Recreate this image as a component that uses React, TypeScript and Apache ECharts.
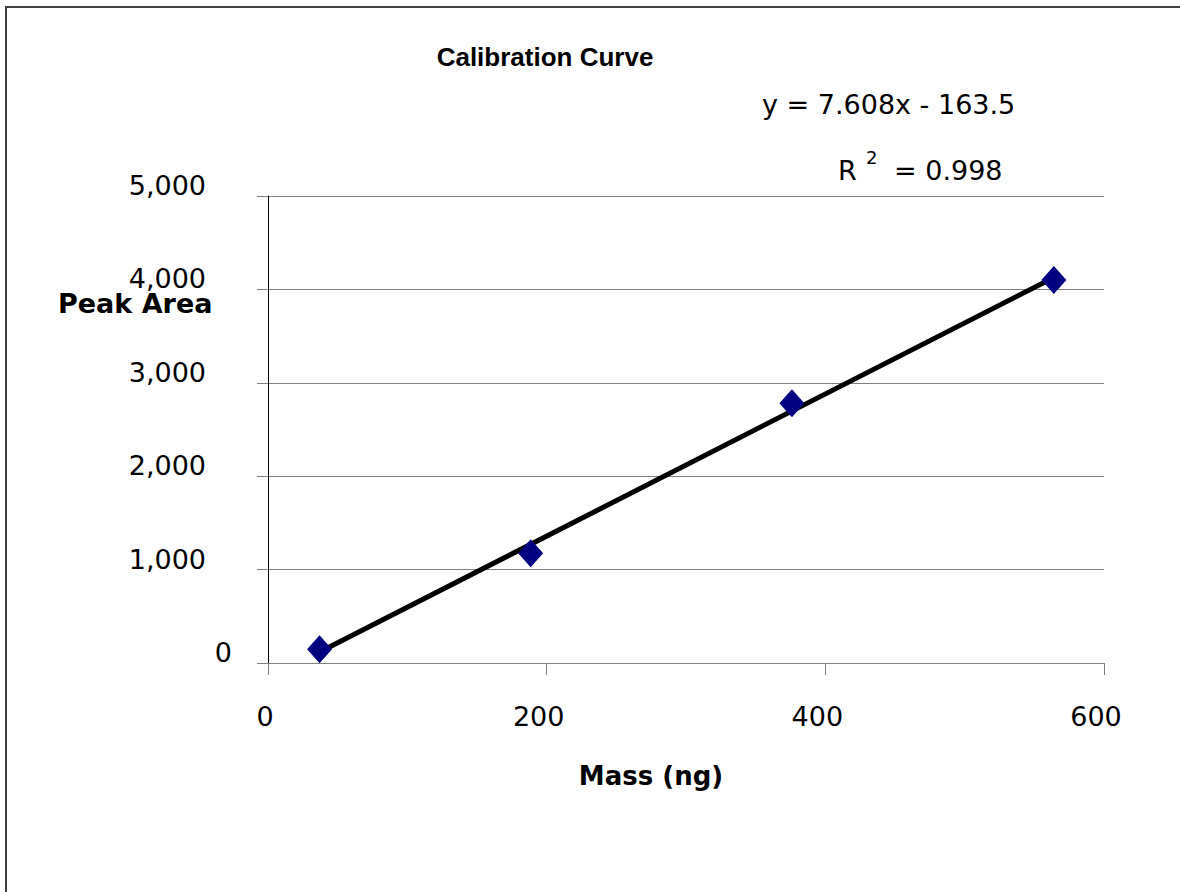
import React, { useEffect, useRef } from "react";
import * as echarts from "echarts";

const massNg = [37, 188.5, 376, 564];
const peakArea = [147, 1175, 2782, 4100];
const trendX = [37, 564];
const trendY = [118, 4128];
const yTicks = [0, 1000, 2000, 3000, 4000, 5000];
const xTicks = [0, 200, 400, 600];
const titleText = "Calibration Curve";
const equationText = "y = 7.608x - 163.5";
const r2Label = "R";
const r2Sup = "2";
const r2Value = "= 0.998";
const xName = "Mass (ng)";
const yName = "Peak Area";

const FONT = "'DejaVu Sans', Verdana, sans-serif";

export default function App() {
  const ref = useRef<HTMLDivElement>(null);
  useEffect(() => {
    const el = ref.current!;
    const chart = echarts.init(el, null, { renderer: "svg" });
    const fmt = (v: number) => v.toLocaleString("en-US");
    chart.setOption({
      animation: false,
      backgroundColor: "#fff",
      grid: { left: 268, right: 76, top: 196, bottom: 229, containLabel: false },
      xAxis: {
        type: "value",
        min: xTicks[0],
        max: xTicks[xTicks.length - 1],
        interval: 200,
        axisLine: { onZero: false, lineStyle: { color: "#808080", width: 1 } },
        axisTick: { show: true, length: 12, inside: false, lineStyle: { color: "#808080" } },
        splitLine: { show: false },
        axisLabel: {
          color: "#000",
          fontFamily: FONT,
          fontSize: 27,
          margin: 40,
          formatter: (v: number) => (v === 0 ? "{a|0}" : "{b|" + v + "}"),
          rich: {
            a: { fontFamily: FONT, fontSize: 27, color: "#000", padding: [0, 6, 0, 0] },
            b: { fontFamily: FONT, fontSize: 27, color: "#000", padding: [0, 16, 0, 0] },
          },
        },
      },
      yAxis: {
        type: "value",
        min: yTicks[0],
        max: yTicks[yTicks.length - 1],
        interval: 1000,
        axisLine: { show: true, lineStyle: { color: "#000", width: 1 } },
        axisTick: { show: true, length: 11, lineStyle: { color: "#808080" } },
        splitLine: { show: true, lineStyle: { color: "#808080", width: 1 } },
        axisLabel: {
          color: "#000",
          fontFamily: FONT,
          fontSize: 27,
          margin: 36,
          align: "right",
          verticalAlign: "bottom",
          lineHeight: 21,
          formatter: (v: number) => (v === 0 ? "{z|0}" : "{w|" + fmt(v) + "}"),
          rich: {
            z: { fontFamily: FONT, fontSize: 27, color: "#000", lineHeight: 21 },
            w: { fontFamily: FONT, fontSize: 27, color: "#000", lineHeight: 21, padding: [0, 26, 0, 0] },
          },
        },
      },
      series: [
        {
          type: "line",
          data: trendX.map((x, i) => [x, trendY[i]]),
          showSymbol: false,
          symbol: "none",
          lineStyle: { color: "#000", width: 5 },
          z: 2,
        },
        {
          type: "scatter",
          data: massNg.map((x, i) => [x, peakArea[i]]),
          symbol: "diamond",
          symbolSize: [25, 28],
          itemStyle: { color: "#000080", opacity: 1 },
          z: 3,
        },
      ],
      graphic: [
        {
          type: "rect",
          shape: { x: 6, y: 7, width: 1300, height: 1000 },
          style: { fill: "none", stroke: "#404040", lineWidth: 2 },
          silent: true,
        },
        {
          type: "text",
          x: 545,
          y: 57,
          style: {
            text: titleText,
            font: "bold 26px 'Liberation Sans', Arial, sans-serif",
            fill: "#000",
            textAlign: "center",
            textVerticalAlign: "middle",
          },
        },
        {
          type: "text",
          x: 762,
          y: 104,
          style: {
            text: equationText,
            font: "27px " + FONT,
            fill: "#000",
            textAlign: "left",
            textVerticalAlign: "middle",
          },
        },
        {
          type: "text",
          x: 838,
          y: 170,
          style: {
            text: r2Label,
            font: "27px " + FONT,
            fill: "#000",
            textAlign: "left",
            textVerticalAlign: "middle",
          },
        },
        {
          type: "text",
          x: 866,
          y: 157,
          style: {
            text: r2Sup,
            font: "18px " + FONT,
            fill: "#000",
            textAlign: "left",
            textVerticalAlign: "middle",
          },
        },
        {
          type: "text",
          x: 894,
          y: 170,
          style: {
            text: r2Value,
            font: "27px " + FONT,
            fill: "#000",
            textAlign: "left",
            textVerticalAlign: "middle",
          },
        },
        {
          type: "text",
          x: 58,
          y: 303,
          style: {
            text: yName,
            font: "bold 27px " + FONT,
            fill: "#000",
            textAlign: "left",
            textVerticalAlign: "middle",
          },
        },
        {
          type: "text",
          x: 651,
          y: 776,
          style: {
            text: xName,
            font: "bold 26px " + FONT,
            fill: "#000",
            textAlign: "center",
            textVerticalAlign: "middle",
          },
        },
      ],
    });
    return () => chart.dispose();
  }, []);
  return <div ref={ref} style={{ width: 1180, height: 892, position: "absolute", left: 0, top: 0 }} />;
}
